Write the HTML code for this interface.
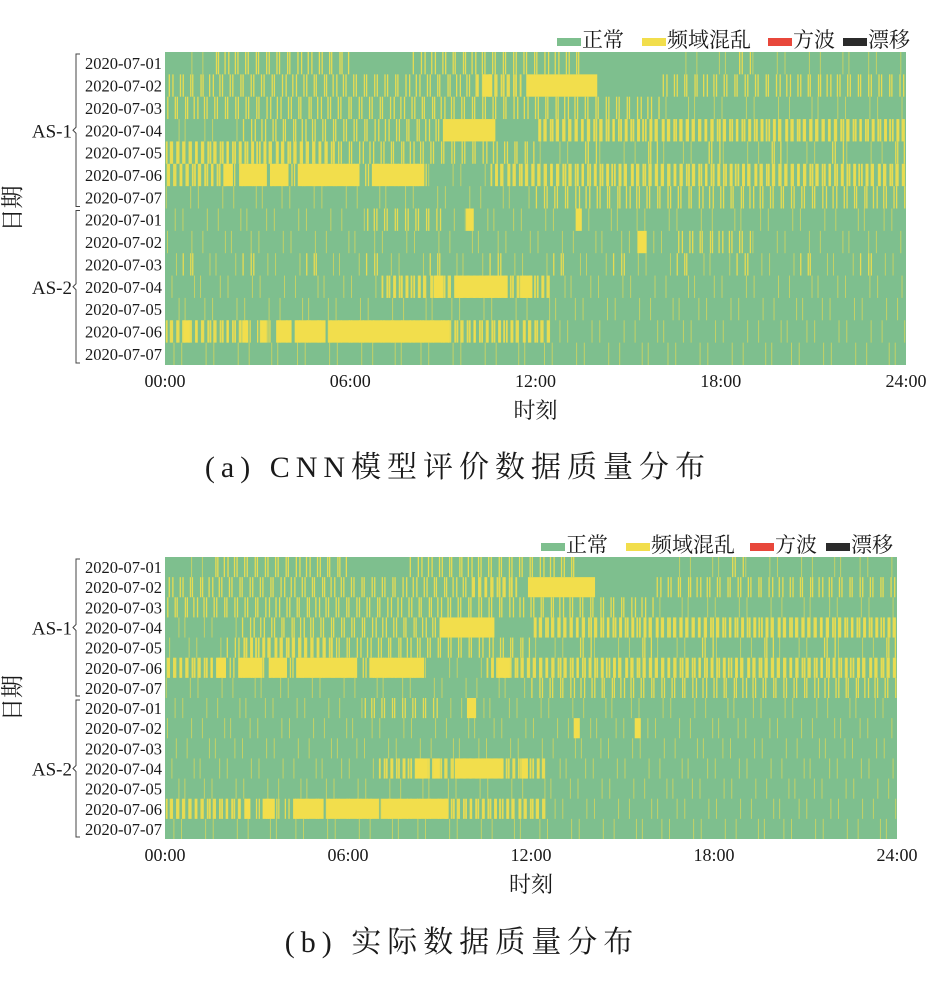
<!DOCTYPE html>
<html><head><meta charset="utf-8">
<style>
html,body{margin:0;padding:0;background:#fff;}
svg{display:block;}
text{font-family:"Liberation Serif","Noto Serif CJK SC","Noto Sans CJK SC",serif;fill:#1a1a1a;}
</style></head>
<body>
<svg id="chart" width="926" height="981" viewBox="0 0 926 981" xmlns="http://www.w3.org/2000/svg"></svg>
<script>
// ---- data ----
const dates = ["2020-07-01","2020-07-02","2020-07-03","2020-07-04","2020-07-05","2020-07-06","2020-07-07"];
const groups = ["AS-1","AS-2"];
const xTicks = [0,6,12,18,24];
const xTickLabels = ["00:00","06:00","12:00","18:00","24:00"];
const legendLabels = ["正常","频域混乱","方波","漂移"];
// stripe density per 30-min bin (0 none .. 3 heavy), 14 rows (AS-1 x7, AS-2 x7)
const densityA = [
 "011222222222"+"0000"+"22222222222"+"000000"+"111121111111111",
 "22222222222222222222"+"333"+"00000"+"0000"+"2222222222222222",
 "22222222222222222222222222222222"+"1111111111111111",
 "11111"+"2222222222222"+"0000"+"00"+"333333333333333333333333",
 "33333333333"+"2222222222222"+"111211121112111211121112",
 "3333"+"2222222222222"+"1111"+"333333333333333333333333333",
 "111111111111111111111111"+"222222222222222222222222",
 "1111111111111"+"22222"+"111111111111111111111111111111",
 "111111111111111111111111111111111"+"22222"+"1111111111",
 "121112111211121112111211121112111211121112111211",
 "11111111111111"+"333"+"33333333"+"11111111111111111111111",
 "111111111111111111111111111111111111111111111111",
 "33333"+"2222222222222"+"3333333"+"11111111111111111111111",
 "111111111111111111111111111111111111111111111111"
];
const densityB = [
 "011222222222"+"0000"+"22222222222"+"000000"+"111121111111111",
 "22222222222222222222"+"333"+"00000"+"0000"+"2222222222222222",
 "22222222222222222222222222222222"+"1111111111111111",
 "11111"+"2222222222222"+"0000"+"00"+"333333333333333333333333",
 "11112333333"+"2222222222222"+"111211121112111211121112",
 "3333"+"2222222222222"+"1111"+"333333333333333333333333333",
 "111111111111111111111111"+"222222222222222222222222",
 "1111111111111"+"22222"+"111111111111111111111111111111",
 "111111111111111111111111111111111"+"11111"+"1111111111",
 "111111111111111111111111111111111111111111111111",
 "11111111111111"+"333"+"33333333"+"11111111111111111111111",
 "111111111111111111111111111111111111111111111111",
 "33333"+"2222222222222"+"3333333"+"11111111111111111111111",
 "111111111111111111111111111111111111111111111111"
];
// solid yellow blocks: row index, start hour, end hour
const blockRowsA = [1,1,3,5,5,5,5,5,7,7,8,10,10,10,12,12,12,12,12,12];
const blockStartA = [11.7,10.3,9.0,1.9,2.4,3.4,4.3,6.7,9.75,13.3,15.3,8.7,9.4,11.5,2.5,3.1,3.6,4.2,5.3,0.6];
const blockEndA   = [14.0,10.6,10.7,2.2,3.3,4.0,6.3,8.4,10.0,13.5,15.6,9.0,11.1,11.9,2.7,3.3,4.1,5.2,9.2,0.8];
const blockRowsB = [1,3,5,5,5,5,5,5,7,8,8,10,10,10,10,12,12,12,12,12];
const blockStartB = [11.9,9.0,1.7,2.4,3.4,4.3,6.7,10.9,9.9,13.4,15.4,8.2,8.8,9.5,11.7,2.6,3.2,4.2,5.3,7.1];
const blockEndB   = [14.1,10.8,2.0,3.2,4.0,6.3,8.5,11.3,10.2,13.6,15.6,8.6,9.0,11.1,11.9,2.8,3.6,5.2,7.0,9.3];

const GREEN="#7ebf8e", YELLOW="#f2de4c", RED="#e8473b", BLACK="#2b2b2b";
const NS="http://www.w3.org/2000/svg";
const svg=document.getElementById('chart');
function el(tag,attrs,parent){const e=document.createElementNS(NS,tag);for(const k in attrs)e.setAttribute(k,attrs[k]);(parent||svg).appendChild(e);return e;}

function panel(p){
  const g=el('g',{});
  
  
  const W=p.x1-p.x0, rowH=(p.y1-p.y0)/14;
  const xs=h=>p.x0+h/24*W;
  const ys=r=>p.y0+r*rowH;
  const bg=el('rect',{x:p.x0,y:p.y0,width:W,height:p.y1-p.y0,fill:GREEN},g);
  
  
  const offs=[0.13,0.71,0.42,0.88,0.27,0.55,0.05,0.63];
  p.density.forEach((row,r)=>{
    for(let i=0;i<row.length;i++){
      const lv=+row[i]; if(!lv) continue;
      const n=[0,1,3,5][lv], w=[0,1,1.3,1.8][lv];
      for(let k=0;k<n;k++){
        const f=(k+offs[(i+k+r)%8])/n;
        const s=el('rect',{x:xs((i+f)*0.5),y:ys(r),width:w,height:rowH,fill:YELLOW,opacity:lv===1?0.6:0.9},g);
        
        
      }
    }
  });
  p.bRows.forEach((r,i)=>{
    const b=el('rect',{x:xs(p.bS[i]),y:ys(r),width:xs(p.bE[i])-xs(p.bS[i]),height:rowH,fill:YELLOW},g);
    
    
  });
  // y labels
  for(let r=0;r<14;r++){
    const t=el('text',{x:p.x0-3,y:ys(r)+rowH/2+6,'text-anchor':'end','font-size':16.5},g);
    t.textContent=dates[r%7];
    
    
  }
  groups.forEach((gn,gi)=>{
    const top=ys(gi*7)+2, bot=ys(gi*7+7)-2, mid=(top+bot)/2, bx=p.x0-89;
    const br=el('path',{d:`M${bx+4},${top} L${bx},${top} L${bx},${mid-3} L${bx-3},${mid} L${bx},${mid+3} L${bx},${bot} L${bx+4},${bot}`,fill:'none',stroke:'#444','stroke-width':1},g);
    
    
    const t=el('text',{x:bx-4,y:mid+7,'text-anchor':'end','font-size':19},g);
    t.textContent=gn;
    
    
  });
  const yt=el('text',{x:0,y:0,'font-size':23,transform:`translate(${p.yTitleX},${(p.y0+p.y1)/2}) rotate(-90)`,'text-anchor':'middle'},g);
  yt.textContent="日期";
  
  
  xTicks.forEach((h,i)=>{
    const t=el('text',{x:xs(h),y:p.y1+22,'text-anchor':'middle','font-size':18},g);
    t.textContent=xTickLabels[i];
    
    
  });
  const xt=el('text',{x:xs(12),y:p.y1+53,'text-anchor':'middle','font-size':22},g);
  xt.textContent="时刻";
  
  
  const cap=el('text',{x:p.capX,y:p.capY,'text-anchor':'middle','font-size':30,'letter-spacing':6},g);
  cap.textContent=p.caption;
  
  
  const cols=[GREEN,YELLOW,RED,BLACK];
  legendLabels.forEach((lb,i)=>{
    const sw=el('rect',{x:p.legX[i],y:p.legY-9,width:24,height:8,fill:cols[i]},g);
    
    
    const t=el('text',{x:p.legX[i]+25,y:p.legY,'font-size':21},g);
    t.textContent=lb;
    
    
  });
}
panel({name:'panel-a',x0:165,x1:906,y0:52,y1:365,density:densityA,bRows:blockRowsA,bS:blockStartA,bE:blockEndA,
  yTitleX:20,capX:458,capY:477,caption:"(a) CNN模型评价数据质量分布",legY:47,legX:[557,642,768,843]});
panel({name:'panel-b',x0:165,x1:897,y0:557,y1:839,density:densityB,bRows:blockRowsB,bS:blockStartB,bE:blockEndB,
  yTitleX:20,capX:462,capY:952,caption:"(b) 实际数据质量分布",legY:552,legX:[541,626,750,826]});
</script>
</body></html>
